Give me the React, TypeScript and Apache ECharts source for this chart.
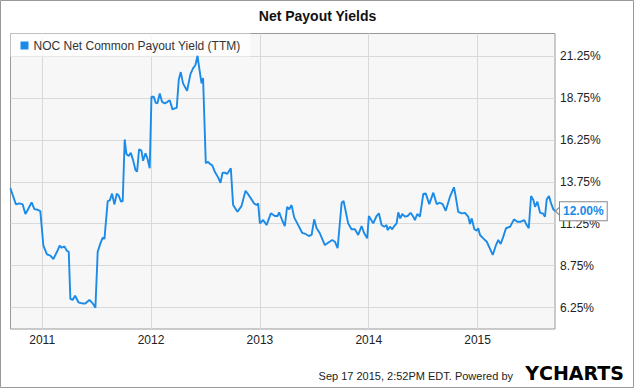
import React, { useEffect, useRef } from 'react';
import * as echarts from 'echarts';

const FONT = "'Liberation Sans', Arial, sans-serif";

const seriesName = 'NOC Net Common Payout Yield (TTM)';
const chartTitle = 'Net Payout Yields';
const footerText = 'Sep 17 2015, 2:52PM EDT. Powered by';
const lastLabel = '12.00%';

const xTickYears = [2011, 2012, 2013, 2014, 2015];
const yTickValues = [6.25, 8.75, 11.25, 13.75, 16.25, 18.75, 21.25];

// dates as decimal years
const dates = [
  2010.708, 2010.759, 2010.79, 2010.821, 2010.846, 2010.867, 2010.903, 2010.928, 2010.959, 2010.983,
  2011.011, 2011.044, 2011.075, 2011.103, 2011.136, 2011.161, 2011.179, 2011.204, 2011.228, 2011.244,
  2011.259, 2011.28, 2011.302, 2011.333, 2011.363, 2011.393, 2011.434, 2011.464, 2011.489, 2011.51,
  2011.535, 2011.556, 2011.572, 2011.602, 2011.621, 2011.642, 2011.664, 2011.685, 2011.703, 2011.724,
  2011.74, 2011.758, 2011.774, 2011.795, 2011.814, 2011.835, 2011.857, 2011.872, 2011.89, 2011.912,
  2011.927, 2011.949, 2011.967, 2011.988, 2012.004, 2012.025, 2012.043, 2012.059, 2012.08, 2012.101,
  2012.126, 2012.151, 2012.172, 2012.197, 2012.218, 2012.236, 2012.255, 2012.273, 2012.294, 2012.331,
  2012.362, 2012.386, 2012.408, 2012.427, 2012.441, 2012.464, 2012.478, 2012.503, 2012.524, 2012.543,
  2012.561, 2012.586, 2012.616, 2012.638, 2012.657, 2012.678, 2012.699, 2012.733, 2012.754, 2012.794,
  2012.831, 2012.868, 2012.886, 2012.917, 2012.947, 2012.969, 2012.984, 2013.0, 2013.03, 2013.061,
  2013.101, 2013.137, 2013.162, 2013.177, 2013.204, 2013.229, 2013.25, 2013.269, 2013.291, 2013.315,
  2013.352, 2013.388, 2013.42, 2013.45, 2013.475, 2013.499, 2013.521, 2013.551, 2013.597, 2013.627,
  2013.664, 2013.689, 2013.714, 2013.751, 2013.769, 2013.811, 2013.842, 2013.873, 2013.903, 2013.934,
  2013.958, 2013.986, 2014.001, 2014.041, 2014.072, 2014.093, 2014.118, 2014.142, 2014.164, 2014.173,
  2014.195, 2014.216, 2014.234, 2014.256, 2014.271, 2014.289, 2014.308, 2014.332, 2014.357, 2014.385,
  2014.409, 2014.424, 2014.446, 2014.47, 2014.501, 2014.523, 2014.556, 2014.593, 2014.624, 2014.654,
  2014.679, 2014.707, 2014.746, 2014.783, 2014.799, 2014.822, 2014.854, 2014.884, 2014.914, 2014.93,
  2014.946, 2014.97, 2014.992, 2015.006, 2015.022, 2015.052, 2015.084, 2015.107, 2015.139, 2015.169,
  2015.19, 2015.212, 2015.236, 2015.261, 2015.298, 2015.334, 2015.365, 2015.396, 2015.429, 2015.451,
  2015.47, 2015.491, 2015.512, 2015.528, 2015.549, 2015.574, 2015.598, 2015.619, 2015.635, 2015.656,
  2015.675, 2015.696, 2015.711,
];

const yields = [
  13.36, 12.4, 12.46, 12.4, 11.83, 12.07, 12.52, 12.12, 12.08, 12.0,
  9.94, 9.43, 9.35, 9.15, 9.58, 9.94, 9.82, 9.9, 9.63, 9.58,
  6.77, 6.71, 6.96, 6.57, 6.51, 6.49, 6.71, 6.51, 6.25, 9.58,
  10.08, 10.42, 10.34, 12.6, 12.64, 13.04, 12.4, 13.04, 12.92, 12.56,
  12.6, 16.27, 15.4, 15.28, 15.48, 15.04, 14.45, 14.35, 15.68, 15.6,
  15.0, 15.44, 15.14, 14.55, 18.81, 18.81, 18.45, 18.42, 19.01, 18.51,
  18.42, 18.51, 18.61, 18.06, 18.12, 18.15, 19.84, 20.28, 19.61, 19.17,
  20.16, 20.5, 20.7, 21.25, 20.6, 19.61, 19.93, 14.85, 14.94, 14.8,
  14.74, 14.35, 14.01, 13.69, 14.29, 14.29, 14.21, 14.55, 12.36, 11.96,
  12.3, 13.21, 13.06, 12.76, 12.46, 12.36, 12.46, 11.27, 11.47, 11.17,
  11.87, 11.71, 11.71, 11.93, 11.47, 11.11, 12.26, 12.11, 12.36, 11.63,
  11.17, 10.71, 10.64, 10.52, 10.58, 11.51, 10.98, 10.68, 9.98, 10.12,
  10.28, 10.18, 9.79, 12.5, 12.6, 11.27, 10.92, 10.92, 10.58, 11.11,
  10.68, 10.38, 11.71, 11.27, 11.71, 11.87, 11.17, 11.07, 11.17, 10.87,
  11.07, 10.92, 11.11, 11.27, 11.93, 11.57, 11.83, 11.67, 11.71, 11.9,
  11.67, 11.47, 11.83, 11.67, 13.02, 13.06, 12.42, 13.1, 12.42, 12.5,
  12.42, 12.02, 12.86, 13.42, 12.86, 11.96, 11.87, 11.9, 11.67, 11.23,
  11.57, 10.92, 10.84, 10.98, 10.58, 10.38, 10.18, 9.85, 9.39, 9.98,
  10.28, 10.04, 10.48, 10.98, 11.07, 11.51, 11.37, 11.37, 11.47, 11.17,
  10.98, 12.9, 12.66, 12.26, 12.56, 11.9, 11.87, 11.67, 12.7, 12.9,
  12.46, 12.11, 12.0,
];

export default function App() {
  const ref = useRef<HTMLDivElement>(null);

  useEffect(() => {
    const chart = echarts.init(ref.current as HTMLDivElement, null, { renderer: 'svg' });
    const data = dates.map((d, i) => [d, yields[i]]);
    const lastIdx = dates.length - 1;
    chart.setOption({
      animation: false,
      backgroundColor: '#ffffff',
      textStyle: { fontFamily: FONT },
      title: {
        text: chartTitle,
        left: 'center',
        top: 9,
        padding: 0,
        textStyle: { fontSize: 14, fontWeight: 'bold', color: '#111', fontFamily: FONT },
      },
      legend: {
        left: 10.5,
        top: 33.5,
        padding: [6, 10, 5, 10],
        backgroundColor: 'rgba(255,255,255,0.75)',
        itemWidth: 8,
        itemHeight: 8,
        icon: 'rect',
        textStyle: { fontSize: 12, color: '#333', fontFamily: FONT },
        data: [{ name: seriesName, icon: 'rect' }],
      },
      grid: {
        left: 10.5,
        right: 80,
        top: 33.5,
        bottom: 60,
        show: true,
        backgroundColor: '#f7f7f7',
        borderColor: '#999',
        borderWidth: 1,
        containLabel: false,
      },
      xAxis: {
        type: 'value',
        min: 2010.709,
        max: 2015.711,
        axisLine: { show: false },
        axisTick: { show: false, customValues: xTickYears },
        axisLabel: {
          customValues: xTickYears,
          formatter: (v: number) => String(Math.round(v)),
          color: '#222',
          fontSize: 12,
          margin: 5,
          fontFamily: FONT,
        },
        splitLine: { show: true, lineStyle: { color: '#d9d9d9', width: 1 } },
      },
      yAxis: {
        type: 'value',
        position: 'right',
        min: 4.98,
        max: 22.58,
        axisLine: { show: false },
        axisTick: { show: false, customValues: yTickValues },
        axisLabel: {
          customValues: yTickValues,
          formatter: (v: number) => v.toFixed(2) + '%',
          color: '#222',
          fontSize: 12,
          margin: 5,
          fontFamily: FONT,
        },
        splitLine: { show: true, lineStyle: { color: '#d9d9d9', width: 1 } },
      },
      series: [
        {
          type: 'line',
          name: seriesName,
          data,
          symbol: 'none',
          lineStyle: { color: '#1a8be8', width: 1.9 },
          itemStyle: { color: '#1a8be8' },
          z: 5,
          endLabel: {
            show: true,
            formatter: () => lastLabel,
            distance: 5,
            color: '#1a8be8',
            fontSize: 12,
            fontWeight: 'bold',
            fontFamily: FONT,
            backgroundColor: '#ffffff',
            borderColor: '#888',
            borderWidth: 1,
            padding: [4, 3, 2, 3],
          },
          markPoint: {
            silent: true,
            symbol: 'path://M0,5 L6,0 L6,10 Z',
            symbolSize: [5, 10],
            symbolOffset: [3, 0],
            itemStyle: { color: '#ffffff', borderColor: '#888', borderWidth: 1 },
            label: { show: false },
            data: [{ coord: [dates[lastIdx], yields[lastIdx]] }],
          },
        },
      ],
      graphic: [
        {
          type: 'rect',
          silent: true,
          z: 100,
          shape: { x: 0.5, y: 0.5, width: 633, height: 387 },
          style: { fill: 'none', stroke: '#999', lineWidth: 1 },
        },
        {
          type: 'text',
          right: 122,
          top: 370,
          style: { text: footerText, font: `11px ${FONT}`, fill: '#222' },
        },
        {
          type: 'text',
          right: 11,
          top: 363,
          style: {
            text: '{a|Y}{b|CHARTS}',
            rich: {
              a: { fontSize: 19, fontWeight: 900, fontFamily: "'DejaVu Sans', sans-serif", color: '#4f74c8' },
              b: { fontSize: 19, fontWeight: 900, fontFamily: "'DejaVu Sans', sans-serif", color: '#1d2733' },
            },
          },
        },
      ],
    });
    return () => chart.dispose();
  }, []);

  return (
    <div
      ref={ref}
      style={{ position: 'fixed', left: 0, top: 0, width: 635, height: 389, background: '#fff' }}
    />
  );
}
